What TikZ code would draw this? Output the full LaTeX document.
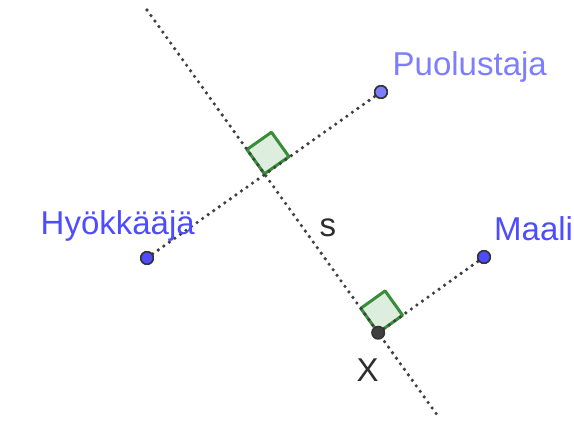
\documentclass[tikz,border=0pt]{standalone}
\usepackage{fontspec}
\setmainfont{Liberation Sans}
\usepackage{tikz}
\usetikzlibrary{calc,positioning}
\definecolor{ggblue}{RGB}{77,77,255}
\definecolor{gglight}{RGB}{125,125,255}
\definecolor{gggreen}{RGB}{56,142,56}
\definecolor{ggfill}{RGB}{222,238,222}
\definecolor{ggdark}{RGB}{64,64,64}

\begin{document}
\begin{tikzpicture}[x=1pt,y=-1pt,font=\fontsize{33}{40}\selectfont,
    pt/.style={circle,draw=ggdark!80!black,line width=1.5pt,inner sep=0pt,minimum size=12.5pt},
    dots/.style={ggdark,line width=3.6pt,line cap=round,dash pattern=on 0pt off 6.8pt},
    rightangle/.style={draw=gggreen,fill=ggfill,line width=3pt,line join=round},
    lbl/.style={anchor=base west,inner sep=0pt}]
    \useasboundingbox (0,0) rectangle (574,422);
    \coordinate (top) at (147,10);
    \coordinate (bot) at (440,419);
    \node[pt,fill=ggblue] (hyok) at (147,258) {};
    \node[pt,fill=gglight] (puol) at (381,92) {};
    \node[pt,fill=ggblue] (maali) at (484,257) {};
    \coordinate (foot) at ($(top)!(hyok)!(bot)$);
    \coordinate (xfoot) at ($(top)!(maali)!(bot)$);
    % right angle marks
    \coordinate (a1) at ($(foot)!30pt!(top)$); \coordinate (a2) at ($(foot)!30pt!(puol)$);
    \draw[rightangle] (foot) -- (a1) -- ($(a1)+(a2)-(foot)$) -- (a2) -- cycle;
    \coordinate (b1) at ($(xfoot)!30pt!(top)$); \coordinate (b2) at ($(xfoot)!30pt!(maali)$);
    \draw[rightangle] (xfoot) -- (b1) -- ($(b1)+(b2)-(xfoot)$) -- (b2) -- cycle;
    \draw[dots] (top) -- (bot);
    \draw[dots] (hyok) -- (puol);
    \draw[dots] (xfoot) -- (maali);
    \node[pt,fill=ggdark] (x) at (xfoot) {};
    \node[pt,fill=ggblue] at (hyok) {}; \node[pt,fill=gglight] at (puol) {}; \node[pt,fill=ggblue] at (maali) {};
    \node[lbl,text=ggblue] (hyoklbl) at (40.5,235) {Hyökkääjä};
    \node[lbl,text=gglight] (puollbl) at (392.5,76) {Puolustaja};
    \node[lbl,text=ggblue] (maalilbl) at (494,241) {Maali};
    \node[lbl,text=ggdark!70!black] (slbl) at (319.5,236.5) {s};
    \node[lbl,text=ggdark!70!black] (xlbl) at (356.5,382) {X};
\end{tikzpicture}
\end{document}
